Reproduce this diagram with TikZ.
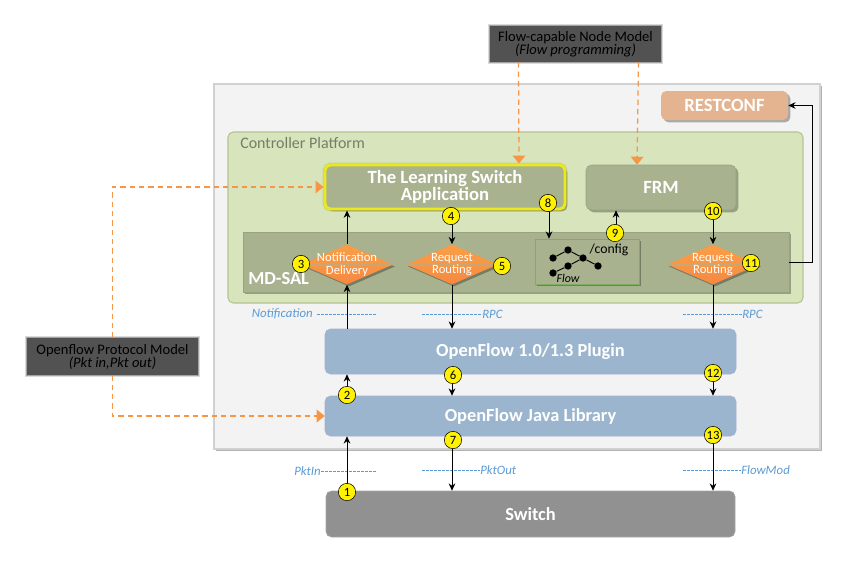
\documentclass[tikz,border=0pt]{standalone}
\usepackage{fontspec}
\setmainfont{Carlito}
\usetikzlibrary{shapes.geometric,shadows,arrows.meta}
\definecolor{panelgray}{HTML}{F3F3F3}
\definecolor{platgreen}{HTML}{D8E4BC}
\definecolor{platline}{HTML}{B4C392}
\definecolor{olivebox}{HTML}{A8B28F}
\definecolor{oliveline}{HTML}{99A382}
\definecolor{layerblue}{HTML}{9AB5CD}
\definecolor{layerline}{HTML}{A9AED0}
\definecolor{dashorange}{HTML}{F79646}
\definecolor{noteblue}{HTML}{5B9BD5}
\definecolor{restfill}{HTML}{E3B48F}
\definecolor{cfgline}{HTML}{7FAD5F}
\definecolor{glowyellow}{HTML}{E9E91E}
\begin{document}
\begin{tikzpicture}[
  x=0.75pt, y=-0.75pt,
  softshadow/.style={drop shadow={shadow xshift=1.8pt, shadow yshift=-1.8pt, opacity=.3, fill=black}},
  box/.style={rectangle, draw, rounded corners=4pt, align=center, text=white, inner sep=0pt},
  olive/.style={box, softshadow, fill=olivebox, draw=oliveline, font=\bfseries\fontsize{14}{13}\selectfont},
  layer/.style={box, fill=layerblue, draw=layerline, font=\bfseries\fontsize{13.8}{13}\selectfont},
  model/.style={rectangle, fill=black!68, inner sep=0pt, align=center, text=black, font=\fontsize{10.9}{9.8}\selectfont,
    preaction={draw=black!70, opacity=.2, line width=3pt},
    preaction={draw=black!70, opacity=.4, line width=1.5pt}},
  router/.style={diamond, aspect=2.25, inner sep=0pt, minimum width=69pt, minimum height=30pt,
    top color=orange!50!dashorange!85, bottom color=dashorange!90!red, middle color=dashorange,
    path picture={\draw[line width=2pt, draw=olivebox!60!dashorange] (path picture bounding box.west) -- (path picture bounding box.east);},
    general shadow={shadow xshift=1.5pt, shadow yshift=-1.5pt, opacity=.3, fill=black}},
  routertext/.style={text=white, align=center, font=\fontsize{9.5}{9.5}\selectfont},
  badge/.style={circle, draw=black, fill=yellow, text=black, inner sep=0pt, minimum size=13pt, font=\fontsize{9.5}{9.5}\selectfont},
  arrow/.style={-{Stealth[length=5.5pt,width=5pt]}, black, line width=.7pt},
  modelarrow/.style={-{Triangle[length=6pt,width=9.5pt,fill=dashorange]}, dashed, dash pattern=on 4pt off 3pt, line width=.95pt, draw=dashorange},
  notedash/.style={noteblue, dashed, dash pattern=on 2pt off 1pt, line width=.4pt},
  notelabel/.style={text=noteblue, inner sep=0pt, font=\itshape\fontsize{9.6}{9}\selectfont},
  treedot/.style={circle, fill=black, inner sep=0pt, minimum size=5.5pt}
]
  \useasboundingbox (0,0) rectangle (864,561);

  % Panels (back to front)
  \node[rectangle, fill=panelgray, draw=black!18, line width=1pt, minimum width=454.5pt, minimum height=273.75pt, softshadow] (panel) at (517,266.5) {};
  \node[rectangle, rounded corners=4pt, fill=platgreen, draw=platline, line width=.8pt, minimum width=431.25pt, minimum height=128.25pt] (platform) at (515.5,217.5) {};
  \node[anchor=west, inner sep=0pt, text=black!45!platgreen, font=\fontsize{12}{12}\selectfont] (platlabel) at (240,143) {Controller Platform};
  \node[rectangle, fill=olivebox, draw=oliveline, minimum width=409.5pt, minimum height=45pt, softshadow] (mdsal) at (516,262) {};
  \node[anchor=west, inner sep=0pt, text=white, font=\bfseries\fontsize{13.8}{13}\selectfont] (mdsallabel) at (248,278.5) {MD-SAL};

  % Boxes
  \node[box, softshadow, fill=olivebox, draw=glowyellow, line width=2.2pt, minimum width=180pt, minimum height=33pt,
    preaction={draw=glowyellow!70!black, opacity=.3, line width=3.5pt}, font=\bfseries\fontsize{14}{13}\selectfont] (learning) at (445,187) {The Learning Switch\\Application};
  \node[olive, minimum width=112.5pt, minimum height=33.75pt] (frm) at (661,187.5) {FRM};
  \node[box, softshadow, fill=restfill, draw=none, minimum width=95.25pt, minimum height=21.75pt, font=\bfseries\fontsize{14}{13}\selectfont] (restconf) at (724.5,105.5) {RESTCONF};
  \node[rectangle, fill=olivebox, draw=cfgline, minimum width=78pt, minimum height=33.75pt, softshadow] (config) at (587,261.5) {};
  \node[layer, minimum width=308.25pt, minimum height=33.75pt] (plugin) at (530.5,351.5) {OpenFlow 1.0/1.3 Plugin};
  \node[layer, minimum width=308.25pt, minimum height=30pt] (library) at (530.5,416) {OpenFlow Java Library};
  \node[box, fill=black!43, draw=black!35, minimum width=306.75pt, minimum height=34.5pt, font=\bfseries\fontsize{13.8}{13}\selectfont] (switch) at (530.5,514) {Switch};

  % Routers
  \node[router, label={[routertext]center:Notification\\Delivery}] (notif) at (347,264.5) {};
  \node[router, label={[routertext]center:Request\\Routing}] (reqa) at (452,264.5) {};
  \node[router, label={[routertext]center:Request\\Routing}] (reqb) at (713,264.5) {};

  % Flow tree in the config store
  \node[treedot] (ta) at (553,258) {};
  \node[treedot] (tb) at (568,250) {};
  \node[treedot] (tc) at (583,258) {};
  \node[treedot] (td) at (598,266) {};
  \node[treedot] (te) at (568,266) {};
  \node[treedot] (tf) at (553,273) {};
  \draw[line width=.7pt] (ta) -- (tb) -- (tc) -- (td);
  \draw[line width=.7pt] (tf) -- (te) -- (tc);
  \node[inner sep=0pt, font=\fontsize{10.3}{10}\selectfont] (cfglabel) at (609,250) {/config};
  \node[inner sep=0pt, font=\itshape\fontsize{9}{9}\selectfont] (flowlabel) at (568,278) {Flow};

  % Models
  \node[model, minimum width=128.25pt, minimum height=27.75pt] (ofmodel) at (112.5,356.5) {Openflow Protocol Model\\{\itshape (Pkt in,Pkt out)}};
  \node[model, minimum width=128.25pt, minimum height=27pt] (flowmodel) at (575.5,44) {Flow-capable Node Model\\{\itshape (Flow programming)}};

  % Dashed model arrows
  \draw[modelarrow] (ofmodel.north) |- (learning.west);
  \draw[modelarrow] (ofmodel.south) |- (library.west);
  \draw[modelarrow] ([xshift=-42.75pt]flowmodel.south) -- ([xshift=55.5pt]learning.north);
  \draw[modelarrow] ([xshift=47.25pt]flowmodel.south) -- ([xshift=-18pt]frm.north);

  % Blue notes
  \node[notelabel, anchor=east] (notifnote) at (313,314) {Notification};
  \coordinate (notifend) at (376,314);
  \draw[notedash] ([xshift=3pt]notifnote.east) -- (notifend);
  \node[notelabel, anchor=west] (rpcnotea) at (482,314) {RPC};
  \coordinate (rpcstarta) at (422,314);
  \draw[notedash] (rpcstarta) -- (rpcnotea.west);
  \node[notelabel, anchor=west] (rpcnoteb) at (742,314) {RPC};
  \coordinate (rpcstartb) at (683,314);
  \draw[notedash] (rpcstartb) -- (rpcnoteb.west);
  \node[notelabel, anchor=east] (pktinnote) at (321,471) {PktIn};
  \coordinate (pktinend) at (376,471);
  \draw[notedash] (pktinnote.east) -- (pktinend);
  \node[notelabel, anchor=west] (pktoutnote) at (480,470) {PktOut};
  \coordinate (pktoutstart) at (422,470);
  \draw[notedash] (pktoutstart) -- (pktoutnote.west);
  \node[notelabel, anchor=west] (flowmodnote) at (741,470) {FlowMod};
  \coordinate (flowmodstart) at (683,470);
  \draw[notedash] (flowmodstart) -- (flowmodnote.west);

  % Packet in
  \draw[arrow] (switch.north -| notif) -- (library.south -| notif);
  \draw[arrow] (library.north -| notif) -- (plugin.south -| notif);
  \draw[arrow] (plugin.north -| notif) -- (notif.south);
  \draw[arrow] (notif.north) -- (learning.south -| notif);

  % Packet out
  \draw[arrow] (learning.south -| reqa) -- (reqa.north);
  \draw[arrow] (reqa.south) -- (plugin.north -| reqa);
  \draw[arrow] (plugin.south -| reqa) -- (library.north -| reqa);
  \draw[arrow] (library.south -| reqa) -- (switch.north -| reqa);

  % Flow programming
  \coordinate (cfgin) at ([xshift=-28.5pt]config.north);
  \coordinate (cfgout) at ([xshift=21.75pt]config.north);
  \draw[arrow] (learning.south -| cfgin) -- (cfgin);
  \draw[arrow] (cfgout) -- (frm.south -| cfgout);
  \draw[arrow] (frm.south -| reqb) -- (reqb.north);
  \draw[arrow] (reqb.south) -- (plugin.north -| reqb);
  \draw[arrow] (plugin.south -| reqb) -- (library.north -| reqb);
  \draw[arrow] (library.south -| reqb) -- (switch.north -| reqb);
  \draw[arrow] (mdsal.east) -- ++(23,0) |- (restconf.east);

  % Step numbers
  \foreach \n/\x/\y in {1/347/492, 2/347/395, 3/301/264, 4/451/216, 5/502/266, 6/453/375, 7/453/440,
      8/548/203, 9/615/233, 10/713/211, 11/751/263, 12/713/373, 13/713/435}
    \node[badge] (step\n) at (\x,\y) {\n};
\end{tikzpicture}
\end{document}
